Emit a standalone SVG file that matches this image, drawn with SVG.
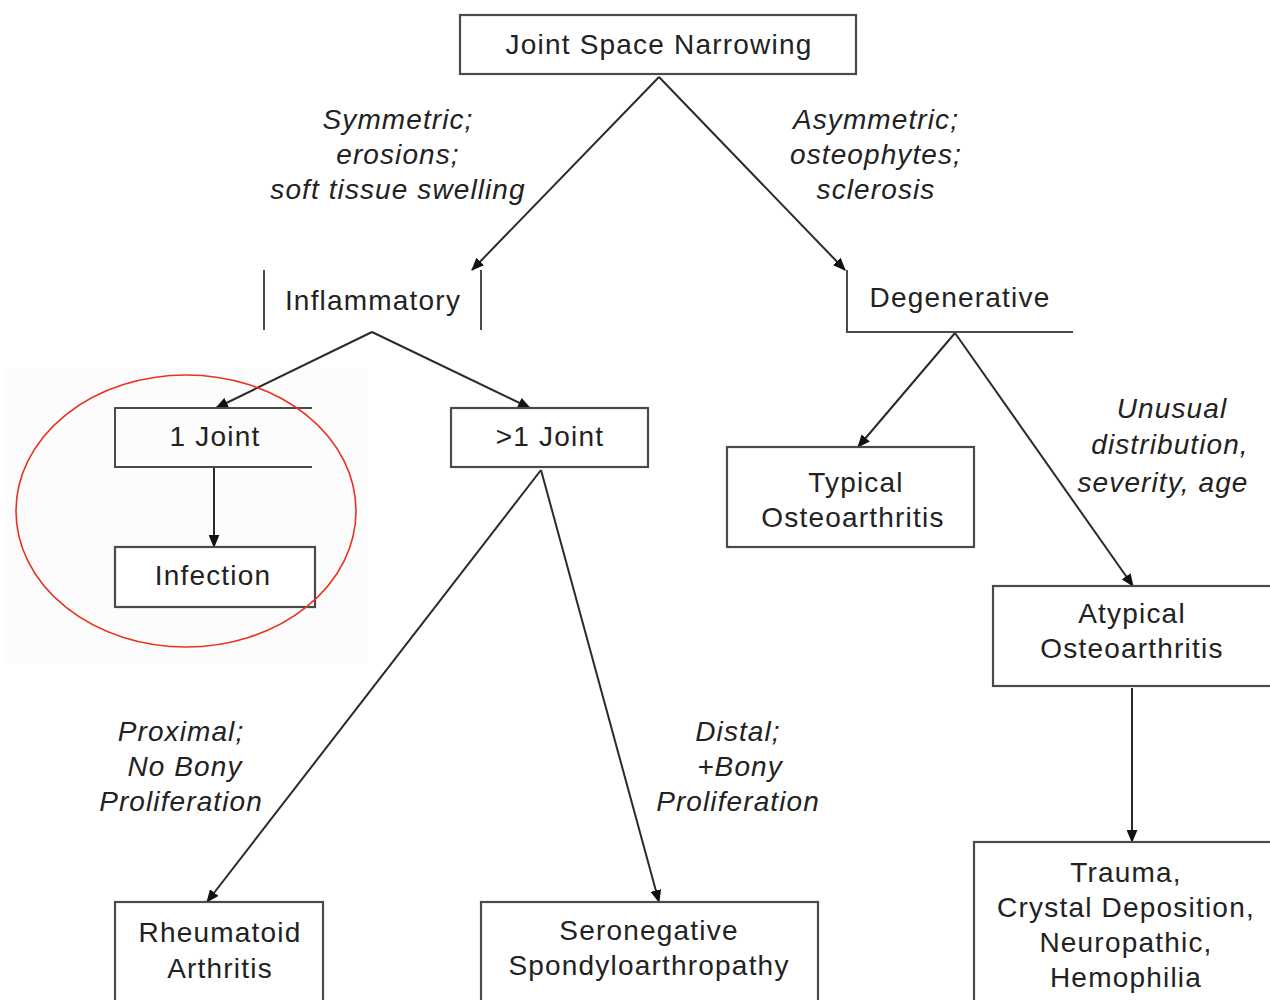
<svg xmlns="http://www.w3.org/2000/svg" width="1270" height="1000" viewBox="0 0 1270 1000">
  <defs>
    <marker id="arrow" viewBox="0 0 12 10" refX="11" refY="5" markerWidth="13" markerHeight="11" markerUnits="userSpaceOnUse" orient="auto">
      <path d="M0,0 L12,5 L0,10 z" fill="#111"/>
    </marker>
    <style>
      .box { fill: #fff; stroke: #4a4a4a; stroke-width: 2.2; }
      .edge { fill: none; stroke: #4a4a4a; stroke-width: 2; }
      .conn { fill: none; stroke: #2a2a2a; stroke-width: 2; marker-end: url(#arrow); }
      .lbl { font-family: "Liberation Sans", Arial, sans-serif; font-size: 28px; letter-spacing: 1.2px; fill: #222; text-anchor: middle; }
      .note { font-family: "Liberation Sans", Arial, sans-serif; font-size: 28px; letter-spacing: 1.1px; font-style: italic; fill: #222; text-anchor: middle; }
    </style>
  </defs>
  <rect width="1270" height="1000" fill="#fff"/>
  <!-- faint backdrop behind the highlighted branch -->
  <rect x="5" y="368" width="362" height="295" fill="#fcfcfc"/>

  <g id="connectors">
    <line class="conn" x1="659" y1="77" x2="472" y2="270"/>
    <line class="conn" x1="659" y1="77" x2="845" y2="270"/>
    <line class="conn" x1="372" y1="332" x2="216" y2="408"/>
    <line class="conn" x1="372" y1="332" x2="530" y2="408"/>
    <line class="conn" x1="214" y1="468" x2="214" y2="547"/>
    <line class="conn" x1="541" y1="470" x2="207" y2="902"/>
    <line class="conn" x1="541" y1="470" x2="659" y2="902"/>
    <line class="conn" x1="955" y1="333" x2="858" y2="447"/>
    <line class="conn" x1="955" y1="333" x2="1133" y2="586"/>
    <line class="conn" x1="1132" y1="688" x2="1132" y2="842"/>
  </g>

  <g id="edge-labels">
    <text class="note" x="398" y="129">Symmetric;</text>
    <text class="note" x="398" y="164">erosions;</text>
    <text class="note" x="398" y="199">soft tissue swelling</text>
    <text class="note" x="876" y="129">Asymmetric;</text>
    <text class="note" x="876" y="164">osteophytes;</text>
    <text class="note" x="876" y="199">sclerosis</text>
    <text class="note" x="1172" y="418">Unusual</text>
    <text class="note" x="1170" y="454">distribution,</text>
    <text class="note" x="1163" y="492">severity, age</text>
    <text class="note" x="181" y="741">Proximal;</text>
    <text class="note" x="185" y="776">No Bony</text>
    <text class="note" x="181" y="811">Proliferation</text>
    <text class="note" x="738" y="741">Distal;</text>
    <text class="note" x="740" y="776">+Bony</text>
    <text class="note" x="738" y="811">Proliferation</text>
  </g>

  <g id="joint-space-narrowing">
    <rect class="box" x="460" y="15" width="396" height="59"/>
    <text class="lbl" x="659" y="54">Joint Space Narrowing</text>
  </g>

  <g id="inflammatory">
    <line class="edge" x1="264" y1="270" x2="264" y2="330" stroke="#888"/>
    <line class="edge" x1="481" y1="270" x2="481" y2="330" stroke="#888"/>
    <text class="lbl" x="373" y="310">Inflammatory</text>
  </g>

  <g id="degenerative">
    <path class="edge" d="M847,270 V332 H1073" stroke="#888"/>
    <text class="lbl" x="960" y="307">Degenerative</text>
  </g>

  <g id="one-joint">
    <path class="edge" d="M312,408 H115 V467 H312" stroke="#888"/>
    <text class="lbl" x="215" y="446">1 Joint</text>
  </g>

  <g id="infection">
    <rect class="box" x="115" y="547" width="200" height="60" stroke-width="3"/>
    <text class="lbl" x="213" y="585">Infection</text>
  </g>

  <g id="multi-joint">
    <rect class="box" x="451" y="408" width="197" height="59" stroke="#888"/>
    <text class="lbl" x="550" y="446">&gt;1 Joint</text>
  </g>

  <g id="rheumatoid-arthritis">
    <rect class="box" x="115" y="902" width="208" height="110"/>
    <text class="lbl" x="220" y="942">Rheumatoid</text>
    <text class="lbl" x="220" y="978">Arthritis</text>
  </g>

  <g id="seronegative">
    <rect class="box" x="481" y="902" width="337" height="110" stroke="#666"/>
    <text class="lbl" x="649" y="940">Seronegative</text>
    <text class="lbl" x="649" y="975">Spondyloarthropathy</text>
  </g>

  <g id="typical-oa">
    <rect class="box" x="727" y="447" width="247" height="100" stroke-width="3"/>
    <text class="lbl" x="856" y="492">Typical</text>
    <text class="lbl" x="853" y="527">Osteoarthritis</text>
  </g>

  <g id="atypical-oa">
    <rect class="box" x="993" y="586" width="285" height="100" stroke="#666"/>
    <text class="lbl" x="1132" y="623">Atypical</text>
    <text class="lbl" x="1132" y="658">Osteoarthritis</text>
  </g>

  <g id="atypical-causes">
    <rect class="box" x="974" y="842" width="304" height="170" stroke-width="3"/>
    <text class="lbl" x="1126" y="882">Trauma,</text>
    <text class="lbl" x="1126" y="917">Crystal Deposition,</text>
    <text class="lbl" x="1126" y="952">Neuropathic,</text>
    <text class="lbl" x="1126" y="987">Hemophilia</text>
  </g>

  <!-- highlight ring around the single-joint branch -->
  <ellipse cx="186" cy="511" rx="170" ry="136" fill="none" stroke="#e8321e" stroke-width="1.6"/>
</svg>
